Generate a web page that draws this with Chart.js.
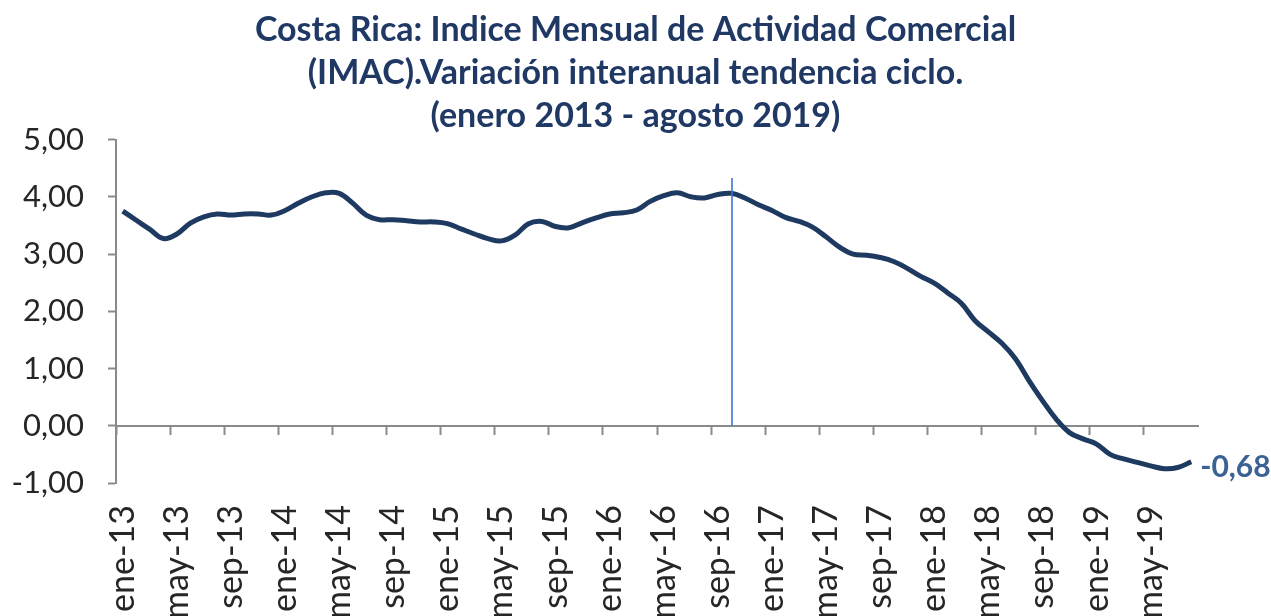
<!DOCTYPE html>
<html>
<head>
<meta charset="utf-8">
<script src="https://cdn.jsdelivr.net/npm/chart.js@4/dist/chart.umd.min.js"></script>
<style>
  html, body { margin: 0; padding: 0; background: #fff; overflow: hidden; }
  #wrap { width: 1271px; height: 616px; position: relative; }
</style>
</head>
<body>
<div id="wrap"><canvas id="imac"></canvas></div>
<script>
// months and years for the category axis
const meses = ['ene', 'feb', 'mar', 'abr', 'may', 'jun', 'jul', 'ago', 'sep', 'oct', 'nov', 'dic'];
const anios = ['13', '14', '15', '16', '17', '18', '19'];

// IMAC, variación interanual tendencia ciclo (ene-13 ... ago-19)
const imac = [
  3.75, 3.59, 3.43, 3.27, 3.35, 3.54, 3.65, 3.70, 3.68, 3.70, 3.70, 3.68,
  3.76, 3.89, 4.00, 4.07, 4.06, 3.89, 3.68, 3.60, 3.60, 3.58, 3.56, 3.56,
  3.53, 3.44, 3.35, 3.27, 3.23, 3.33, 3.53, 3.57, 3.48, 3.46, 3.55, 3.63,
  3.70, 3.72, 3.77, 3.92, 4.02, 4.07, 4.00, 3.98, 4.04, 4.06, 3.98, 3.86,
  3.76, 3.64, 3.57, 3.47, 3.30, 3.12, 3.00, 2.98, 2.94, 2.87, 2.75, 2.61,
  2.49, 2.32, 2.14, 1.84, 1.64, 1.44, 1.17, 0.79, 0.44, 0.12, -0.12, -0.23,
  -0.32, -0.50, -0.58, -0.64, -0.70, -0.75, -0.73, -0.63
];

const ultimoTexto = '-0,68';
const marcaIndice = 45;      // vertical reference line (oct-16)
const marcaTope = 4.33;

const titulo = [
  'Costa Rica: Indice Mensual de Actividad Comercial',
  '(IMAC).Variación interanual tendencia ciclo.',
  '(enero 2013 - agosto 2019)'
];

const labels = [];
for (let a = 0; a < anios.length; a++) {
  for (let m = 0; m < 12; m++) {
    if (labels.length < imac.length) labels.push(meses[m] + '-' + anios[a]);
  }
}

const fuente = "Lato, 'Open Sans', sans-serif";
const gris = '#8a8a8a';

// draws the vertical blue line and the label of the last value
const extras = {
  id: 'extras',
  afterDatasetsDraw(chart) {
    const ctx = chart.ctx;
    const x = chart.scales.x;
    const y = chart.scales.y;
    ctx.save();
    const mx = Math.round(x.getPixelForValue(marcaIndice)) + 1;
    ctx.strokeStyle = '#3F73D6';
    ctx.lineWidth = 1.6;
    ctx.beginPath();
    ctx.moveTo(mx, y.getPixelForValue(marcaTope));
    ctx.lineTo(mx, y.getPixelForValue(0));
    ctx.stroke();

    const last = imac.length - 1;
    const lx = x.getPixelForValue(last);
    const ly = y.getPixelForValue(imac[last]);
    ctx.fillStyle = '#3A6294';
    ctx.font = 'bold 30px ' + fuente;
    ctx.textAlign = 'left';
    ctx.textBaseline = 'middle';
    ctx.fillText(ultimoTexto, lx + 9, ly + 6);
    ctx.restore();
  }
};

new Chart(document.getElementById('imac'), {
  type: 'line',
  data: {
    labels: labels,
    datasets: [{
      data: imac,
      borderColor: '#1F3A60',
      borderWidth: 5,
      pointRadius: 0,
      tension: 0.4,
      fill: false,
      xAxisID: 'x',
      yAxisID: 'y'
    }]
  },
  options: {
    responsive: true,
    maintainAspectRatio: false,
    animation: false,
    layout: { padding: 0 },
    plugins: {
      legend: { display: false },
      tooltip: { enabled: false },
      title: {
        display: true,
        text: titulo,
        color: '#1F3864',
        font: { family: fuente, size: 34, weight: 'bold', lineHeight: 1.27 },
        padding: { top: 8, bottom: 2 }
      }
    },
    scales: {
      x: {
        type: 'category',
        position: 'bottom',
        offset: true,
        grid: { display: false },
        border: { display: false },
        ticks: {
          autoSkip: false,
          maxRotation: 90,
          minRotation: 90,
          padding: 14,
          color: '#262626',
          font: { family: fuente, size: 34 },
          callback: function(v, i) { return i % 4 === 0 ? this.getLabelForValue(v) : ''; }
        },
        afterFit: (s) => { s.height = 133; }
      },
      x0: {
        type: 'category',
        position: { y: 0 },
        offset: true,
        grid: {
          offset: true,
          drawOnChartArea: false,
          drawTicks: true,
          tickLength: 8,
          tickWidth: 2,
          tickColor: (c) => (c.index % 4 === 0 ? gris : 'rgba(0,0,0,0)')
        },
        border: { display: true, color: gris, width: 2 },
        ticks: { display: false }
      },
      y: {
        min: -1,
        max: 5,
        position: 'left',
        grid: {
          drawOnChartArea: false,
          drawTicks: true,
          tickLength: 8,
          tickWidth: 2,
          tickColor: gris
        },
        border: { display: true, color: gris, width: 2 },
        ticks: {
          stepSize: 1,
          padding: 24,
          color: '#262626',
          font: { family: fuente, size: 31 },
          callback: (v) => v.toFixed(2).replace('.', ',')
        },
        afterFit: (s) => { s.width = 116; }
      },
      // empty right-hand space for the last value label
      yr: {
        position: 'right',
        display: true,
        grid: { display: false },
        border: { display: false },
        ticks: { display: false },
        afterFit: (s) => { s.width = 73; }
      }
    }
  },
  plugins: [extras]
});
</script>
</body>
</html>
